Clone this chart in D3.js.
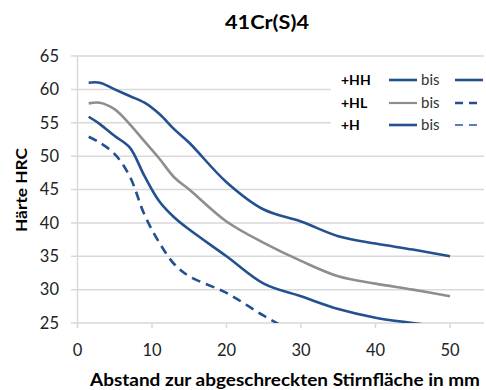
<!DOCTYPE html>
<html>
<head>
<meta charset="utf-8">
<script src="https://cdn.jsdelivr.net/npm/d3@7/dist/d3.min.js"></script>
<style>
  body { margin: 0; background: #fff; }
  text { font-family: Lato, "Liberation Sans", sans-serif; }
</style>
</head>
<body>
<div id="chart"></div>
<script>
var w = 486;
var h = 390;

// data: Jominy distance (mm) and hardness (HRC)
var distance = [1.5, 3, 5, 7, 9, 11, 13, 15, 20, 25, 30, 35, 40, 45, 50];
var hhMax  = [61.0, 61.0, 60.0, 59.0, 58.0, 56.3, 54.0, 52.0, 46.1, 42.0, 40.2, 38.0, 36.9, 36.0, 35.0];
var hlMax  = [57.9, 58.0, 57.0, 54.8, 52.2, 49.6, 46.8, 45.0, 40.2, 37.0, 34.3, 32.0, 30.9, 30.0, 29.0];
var hMid   = [55.9, 54.8, 53.0, 51.3, 47.0, 43.2, 40.8, 39.0, 35.0, 30.9, 29.0, 27.1, 25.8, 25.0, 24.3];
var hMin   = [52.9, 52.0, 50.3, 47.0, 41.2, 37.0, 33.8, 32.0, 29.5, 26.1, 23.0];
var yTicks = [25, 30, 35, 40, 45, 50, 55, 60, 65];
var xTicks = [0, 10, 20, 30, 40, 50];
var legendRows = ["+HH", "+HL", "+H"];

var blue = "#23508f", gray = "#8e8e8e", grid = "#d9d9d9";

var svg = d3.select("#chart")
    .append("svg")
    .attr("width", w)
    .attr("height", h);

var xScale = d3.scaleLinear().domain([0, 50]).range([77.5, 450]);
var yScale = d3.scaleLinear().domain([25, 65]).range([323, 56]);

// gridlines (they run a little past the axis on the left like tick marks)
svg.append("g")
  .selectAll("line")
  .data(yTicks)
  .enter().append("line")
  .attr("x1", 71).attr("x2", 484)
  .attr("y1", function(d) { return yScale(d); })
  .attr("y2", function(d) { return yScale(d); })
  .style("stroke", grid)
  .style("stroke-width", 1.5);

// vertical axis line
svg.append("line")
  .attr("x1", xScale(0)).attr("x2", xScale(0))
  .attr("y1", yScale(65)).attr("y2", yScale(25) + 5)
  .style("stroke", grid).style("stroke-width", 1.5);

// x tick marks
svg.append("g")
  .selectAll("line")
  .data(xTicks)
  .enter().append("line")
  .attr("x1", function(d) { return xScale(d); })
  .attr("x2", function(d) { return xScale(d); })
  .attr("y1", yScale(25)).attr("y2", yScale(25) + 5)
  .style("stroke", grid).style("stroke-width", 1.5);

// tick labels
svg.append("g")
  .selectAll("text")
  .data(yTicks)
  .enter().append("text")
  .attr("x", 59)
  .attr("y", function(d) { return yScale(d); })
  .attr("dy", "0.35em")
  .attr("text-anchor", "end")
  .style("font-size", "16.5px")
  .style("fill", "#222")
  .text(function(d) { return d; });

svg.append("g")
  .selectAll("text")
  .data(xTicks)
  .enter().append("text")
  .attr("x", function(d) { return xScale(d); })
  .attr("y", 356)
  .attr("text-anchor", "middle")
  .style("font-size", "16.5px")
  .style("fill", "#222")
  .text(function(d) { return d; });

// titles
svg.append("text")
  .attr("x", 267).attr("y", 29)
  .attr("text-anchor", "middle")
  .attr("textLength", 84).attr("lengthAdjust", "spacingAndGlyphs")
  .style("font-size", "18px").style("font-weight", "bold")
  .text("41Cr(S)4");

svg.append("text")
  .attr("x", 285).attr("y", 386)
  .attr("text-anchor", "middle")
  .attr("textLength", 390).attr("lengthAdjust", "spacingAndGlyphs")
  .style("font-size", "16.5px").style("font-weight", "bold")
  .text("Abstand zur abgeschreckten Stirnfläche in mm");

svg.append("text")
  .attr("transform", "translate(27,190) rotate(-90)")
  .attr("text-anchor", "middle")
  .attr("textLength", 84).attr("lengthAdjust", "spacingAndGlyphs")
  .style("font-size", "15.5px").style("font-weight", "bold")
  .text("Härte HRC");

// curves, clipped to the plot area
svg.append("clipPath").attr("id", "plot")
  .append("rect")
  .attr("x", 70).attr("y", yScale(65) - 5)
  .attr("width", 420).attr("height", yScale(25) - yScale(65) + 5);

var line = d3.line()
  .x(function(d) { return xScale(d[0]); })
  .y(function(d) { return yScale(d[1]); })
  .curve(d3.curveCatmullRom.alpha(0.5));

var series = [
  { values: hhMax, color: blue, dash: null },
  { values: hlMax, color: gray, dash: null },
  { values: hMid,  color: blue, dash: null },
  { values: hMin,  color: blue, dash: "9,6" }
];

var curves = svg.append("g").attr("clip-path", "url(#plot)");
series.forEach(function(s) {
  var pts = s.values.map(function(v, i) { return [distance[i], v]; });
  curves.append("path")
    .datum(pts)
    .attr("d", line)
    .style("fill", "none")
    .style("stroke", s.color)
    .style("stroke-width", 2.6)
    .style("stroke-dasharray", s.dash);
});

// legend
var lg = svg.append("g");
lg.append("rect")
  .attr("x", 331).attr("y", 62)
  .attr("width", 155).attr("height", 86)
  .style("fill", "#fff");

var rowY = [80, 103, 125];
var sample1 = [{ c: blue, d: null, wd: 2.6 }, { c: gray, d: null, wd: 2.2 }, { c: blue, d: null, wd: 2.6 }];
var sample2 = [{ c: blue, d: null, wd: 2.6 }, { c: blue, d: "8,6", wd: 2.6 }, { c: "#5a7fb8", d: "8,6", wd: 2 }];

legendRows.forEach(function(r, i) {
  var y = rowY[i];
  lg.append("text")
    .attr("x", 341).attr("y", y).attr("dy", "0.35em")
    .style("font-size", "14px").style("font-weight", "bold")
    .text(r);
  lg.append("line")
    .attr("x1", 389).attr("x2", 417).attr("y1", y).attr("y2", y)
    .style("stroke", sample1[i].c).style("stroke-width", sample1[i].wd);
  lg.append("text")
    .attr("x", 421).attr("y", y).attr("dy", "0.35em")
    .style("font-size", "15px").style("fill", "#333")
    .text("bis");
  lg.append("line")
    .attr("x1", 455).attr("x2", 483).attr("y1", y).attr("y2", y)
    .style("stroke", sample2[i].c).style("stroke-width", sample2[i].wd)
    .style("stroke-dasharray", sample2[i].d);
});
</script>
</body>
</html>
